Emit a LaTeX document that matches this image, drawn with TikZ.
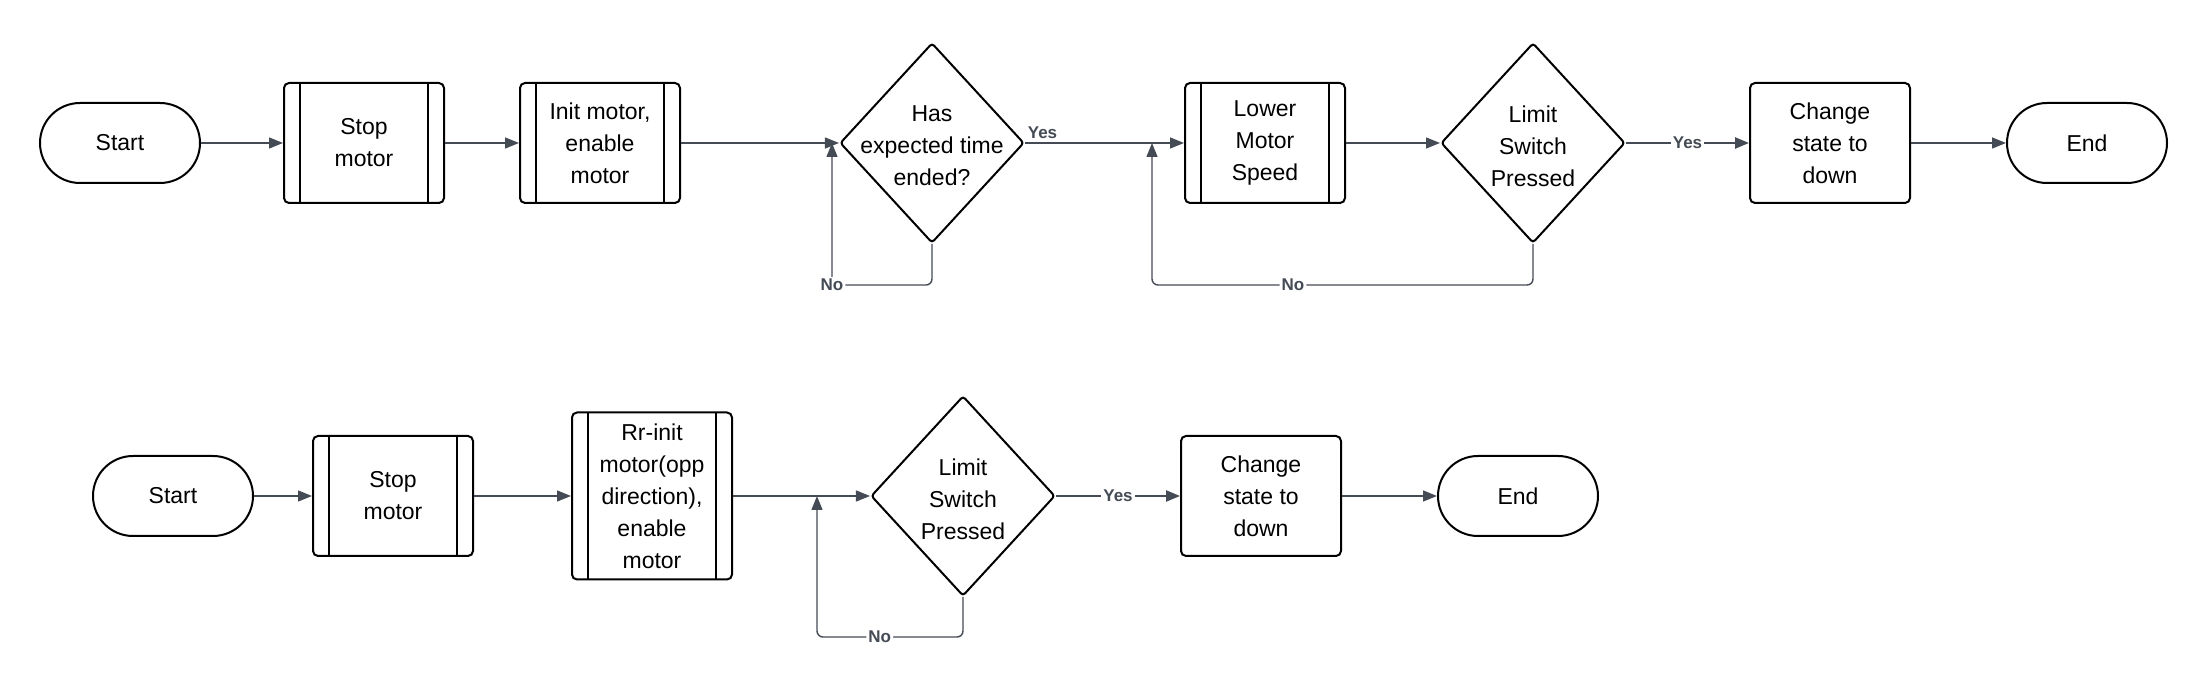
\documentclass[tikz,border=0pt]{standalone}
\usepackage{fontspec}
\setmainfont{Liberation Sans}
\usepackage{tikz}
\usetikzlibrary{arrows.meta,shapes.geometric}
\definecolor{linkgray}{HTML}{454B54}
\tikzset{
  box/.style={draw=black, line width=1pt, align=center, inner sep=0pt,
    font=\fontsize{11.5}{16}\selectfont},
  terminal/.style={box, rounded corners=20pt, minimum width=80pt, minimum height=40pt},
  process/.style={box, rounded corners=2.5pt, minimum width=80pt, minimum height=60pt},
  subproc/.style={process, path picture={
    \draw[line width=1pt]
      ([xshift=8pt]path picture bounding box.north west) -- ([xshift=8pt]path picture bounding box.south west)
      ([xshift=-8pt]path picture bounding box.north east) -- ([xshift=-8pt]path picture bounding box.south east);}},
  decision/.style={diamond, draw=black, line width=1pt, rounded corners=1.5pt, inner sep=0pt,
    minimum width=92pt, minimum height=100pt},
  dtext/.style={align=center, inner sep=0pt, yshift=-1.5pt, font=\fontsize{11.5}{16}\selectfont},
  link/.style={draw=linkgray, line width=0.7pt, -{Triangle[length=7pt,width=5.5pt]}},
  yeslink/.style={link, line width=1.2pt},
  choice/.style={font=\fontsize{8.5}{9}\selectfont\bfseries, text=linkgray, fill=white, inner sep=1pt}
}

\begin{document}
\begin{tikzpicture}[x=0.5pt, y=-0.5pt]
\useasboundingbox (0,0) rectangle (2208,688);

% first run
\node[terminal] (start1) at (120,143) {Start};
\node[subproc] (stop1) at (364,143) {Stop\\motor};
\node[subproc] (init1) at (600,143) {Init motor,\\enable\\motor};
\node[decision] (timeup) at (932,143) {};
\node[dtext] at (timeup) {Has\\expected time\\ended?};
\node[subproc] (lower1) at (1265,143) {Lower\\Motor\\Speed};
\node[decision] (limit1) at (1533,143) {};
\node[dtext] at (limit1) {Limit\\Switch\\Pressed};
\node[process] (change1) at (1830,143) {Change\\state to\\down};
\node[terminal] (end1) at (2087,143) {End};
\coordinate (join1) at (832,143);
\coordinate (join2) at (1152,143);

\draw[link] (start1) -- (stop1);
\draw[link] (stop1) -- (init1);
\draw[link] (init1) -- (timeup);
\draw[link] (timeup) -- node[choice, fill=none, pos=0.11, above=1pt]{Yes} (lower1);
\draw[link] (lower1) -- (limit1);
\draw[yeslink] (limit1) -- node[choice, pos=0.5]{Yes} (change1);
\draw[link] (change1) -- (end1);
\draw[link, rounded corners=3pt] (timeup.south) -- ++(0,41) -- ++(-100,0) node[choice]{No} -- (join1);
\draw[link, rounded corners=3pt] (limit1.south) -- ++(0,41) -- node[choice, pos=0.63]{No} ++(-381,0) -- (join2);

% second run
\node[terminal] (start2) at (173,496) {Start};
\node[subproc] (stop2) at (393,496) {Stop\\motor};
\node[subproc, minimum height=83.5pt] (init2) at (652,496) {Rr-init\\motor(opp\\direction),\\enable\\motor};
\node[decision] (limit2) at (963,496) {};
\node[dtext] at (limit2) {Limit\\Switch\\Pressed};
\node[process] (change2) at (1261,496) {Change\\state to\\down};
\node[terminal] (end2) at (1518,496) {End};
\coordinate (join3) at (817,496);

\draw[link] (start2) -- (stop2);
\draw[link] (stop2) -- (init2);
\draw[link] (init2) -- (limit2);
\draw[yeslink] (limit2) -- node[choice, pos=0.5]{Yes} (change2);
\draw[link] (change2) -- (end2);
\draw[link, rounded corners=3pt] (limit2.south) -- ++(0,40) -- node[choice, pos=0.57]{No} ++(-146,0) -- (join3);
\end{tikzpicture}
\end{document}
